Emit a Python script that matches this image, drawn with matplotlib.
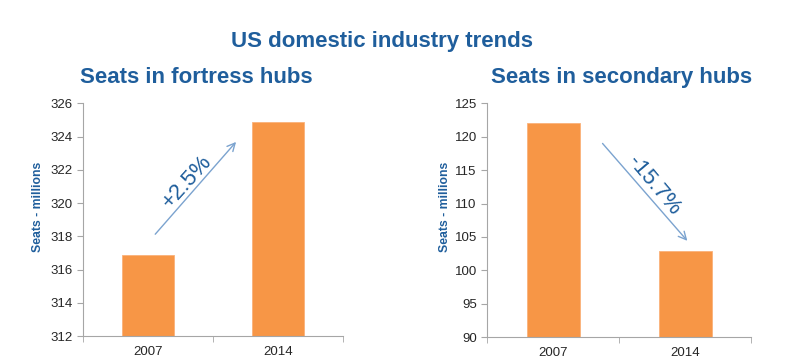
import matplotlib
matplotlib.use("Agg")
import matplotlib.pyplot as plt

# data
years = ["2007", "2014"]
fortress_seats = [316.9, 324.9]
secondary_seats = [122.0, 102.9]
fortress_ticks = [312, 314, 316, 318, 320, 322, 324, 326]
secondary_ticks = [90, 95, 100, 105, 110, 115, 120, 125]

blue = "#1F5E9C"
orange = "#F79646"
grey = "#A6A6A6"

plt.rcParams["font.family"] = ["Liberation Sans", "DejaVu Sans"]

fig = plt.figure(figsize=(8, 3.61), dpi=100)
fig.text(0.478, 0.885, "US domestic industry trends", ha="center", va="center",
         fontsize=16, fontweight="bold", color=blue)


def draw_panel(rect, values, ticks, title, title_x, label_x, arrow, note):
    ax = fig.add_axes(rect)
    ax.bar(range(len(years)), values, width=0.4, color=orange, edgecolor="#FAB27A", linewidth=0.6)
    ax.set_xlim(-0.5, 1.5)
    ax.set_ylim(ticks[0], ticks[-1])
    ax.set_yticks(ticks)
    ax.set_xticks(range(len(years)))
    ax.set_xticklabels(years)
    ax.set_xticks([-0.5, 0.5, 1.5], minor=True)
    ax.tick_params(axis="x", which="major", length=0, pad=7, labelsize=9.5, labelcolor="#262626")
    ax.tick_params(axis="x", which="minor", length=4, color=grey)
    ax.tick_params(axis="y", length=4, color=grey, labelsize=9.5, labelcolor="#262626")
    for side in ("top", "right"):
        ax.spines[side].set_visible(False)
    for side in ("left", "bottom"):
        ax.spines[side].set_color(grey)
    ax.set_ylabel("Seats - millions", fontsize=8.8, fontweight="bold", color=blue)
    ax.yaxis.set_label_coords(label_x, 0.555)
    ax.text(title_x, 1.11, title, transform=ax.transAxes, ha="center", va="center",
            fontsize=16, fontweight="bold", color=blue)
    (x0, y0), (x1, y1) = arrow
    ax.annotate("", xy=(x1, y1), xytext=(x0, y0),
                arrowprops=dict(arrowstyle="->", color="#7BA3CF", lw=1.0, mutation_scale=14))
    nx, ny, text, rot = note
    ax.text(nx, ny, text, ha="center", va="center", rotation=rot,
            fontsize=16, color=blue)
    return ax


draw_panel([0.104, 0.069, 0.325, 0.645], fortress_seats, fortress_ticks,
           "Seats in fortress hubs", 0.435, -0.152,
           ((0.04, 318.0), (0.69, 323.8)), (0.30, 321.3, "+2.5%", 48))
draw_panel([0.609, 0.066, 0.33, 0.648], secondary_seats, secondary_ticks,
           "Seats in secondary hubs", 0.51, -0.137,
           ((0.36, 119.3), (1.03, 104.1)), (0.76, 112.7, "-15.7%", -50))

fig.savefig("out.png", dpi=100)
